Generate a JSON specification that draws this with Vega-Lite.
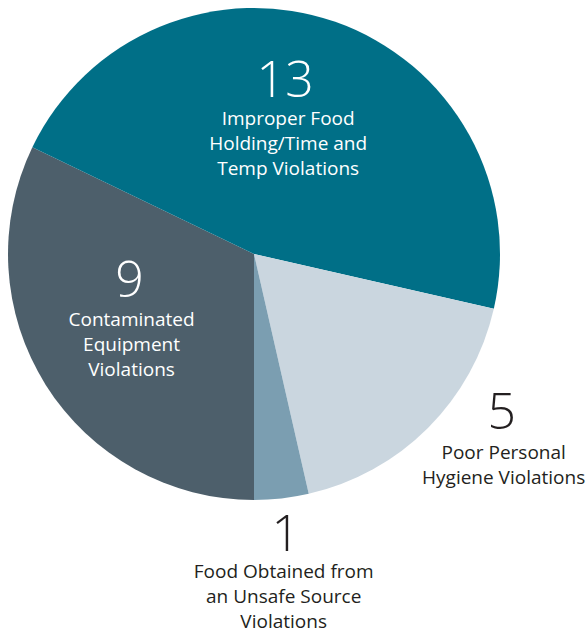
{
  "$schema": "https://vega.github.io/schema/vega-lite/v6.json",
  "width": 508,
  "height": 508,
  "autosize": {"type": "none"},
  "padding": {"left": 0, "top": 0, "right": 79, "bottom": 124},
  "background": "white",
  "config": {"view": {"stroke": null}},
  "data": {"values": [
    {"cat": "Contaminated", "count": 9, "ord": 1, "desc": "Contaminated\nEquipment\nViolations"},
    {"cat": "Improper", "count": 13, "ord": 2, "desc": "Improper Food\nHolding/Time and\nTemp Violations"},
    {"cat": "Poor", "count": 5, "ord": 3, "desc": "Poor Personal\nHygiene Violations"},
    {"cat": "Food", "count": 1, "ord": 4, "desc": "Food Obtained from\nan Unsafe Source\nViolations"}
  ]},
  "encoding": {
    "theta": {"field": "count", "type": "quantitative", "stack": true, "scale": {"range": [3.14159265, 9.42477796]}},
    "order": {"field": "ord", "type": "quantitative"}
  },
  "layer": [
    {
      "mark": {"type": "arc", "outerRadius": 246},
      "encoding": {
        "color": {"field": "cat", "type": "nominal", "legend": null,
          "scale": {"domain": ["Contaminated", "Improper", "Poor", "Food"], "range": ["#4D5F6B", "#006F87", "#CAD6DF", "#7B9EB1"]}}
      }
    },
    {
      "mark": {"type": "text", "radius": 173, "dx": -26, "dy": -9, "fontSize": 50, "font": "Open Sans", "fontWeight": 300, "color": "white", "baseline": "middle", "align": "center"},
      "encoding": {"text": {"condition": {"test": "datum.cat === 'Improper'", "field": "count", "type": "quantitative"}, "value": ""}}
    },
    {
      "mark": {"type": "text", "radius": 173, "dx": -23, "dy": 28, "fontSize": 19, "lineHeight": 25, "lineBreak": "\n", "font": "Open Sans", "color": "white", "baseline": "middle", "align": "center"},
      "encoding": {"text": {"condition": {"test": "datum.cat === 'Improper'", "field": "desc", "type": "nominal"}, "value": ""}}
    },
    {
      "mark": {"type": "text", "radius": 121, "dx": -22, "dy": -36, "fontSize": 50, "font": "Open Sans", "fontWeight": 300, "color": "white", "baseline": "middle", "align": "center"},
      "encoding": {"text": {"condition": {"test": "datum.cat === 'Contaminated'", "field": "count", "type": "quantitative"}, "value": ""}}
    },
    {
      "mark": {"type": "text", "radius": 121, "dx": -20, "dy": 2, "fontSize": 19, "lineHeight": 25, "lineBreak": "\n", "font": "Open Sans", "color": "white", "baseline": "middle", "align": "center"},
      "encoding": {"text": {"condition": {"test": "datum.cat === 'Contaminated'", "field": "desc", "type": "nominal"}, "value": ""}}
    },
    {
      "mark": {"type": "text", "radius": 288, "dx": 44, "dy": -44, "fontSize": 50, "font": "Open Sans", "fontWeight": 300, "color": "#231F20", "baseline": "middle", "align": "center"},
      "encoding": {"text": {"condition": {"test": "datum.cat === 'Poor'", "field": "count", "type": "quantitative"}, "value": ""}}
    },
    {
      "mark": {"type": "text", "radius": 288, "dx": 46, "dy": -5, "fontSize": 19, "lineHeight": 25, "lineBreak": "\n", "font": "Open Sans", "color": "#231F20", "baseline": "middle", "align": "center"},
      "encoding": {"text": {"condition": {"test": "datum.cat === 'Poor'", "field": "desc", "type": "nominal"}, "value": ""}}
    },
    {
      "mark": {"type": "text", "radius": 283, "dx": 0, "dy": 1, "fontSize": 50, "font": "Open Sans", "fontWeight": 300, "color": "#231F20", "baseline": "middle", "align": "center"},
      "encoding": {"text": {"condition": {"test": "datum.cat === 'Food'", "field": "count", "type": "quantitative"}, "value": ""}}
    },
    {
      "mark": {"type": "text", "radius": 283, "dx": -2, "dy": 37, "fontSize": 19, "lineHeight": 25, "lineBreak": "\n", "font": "Open Sans", "color": "#231F20", "baseline": "middle", "align": "center"},
      "encoding": {"text": {"condition": {"test": "datum.cat === 'Food'", "field": "desc", "type": "nominal"}, "value": ""}}
    }
  ]
}
